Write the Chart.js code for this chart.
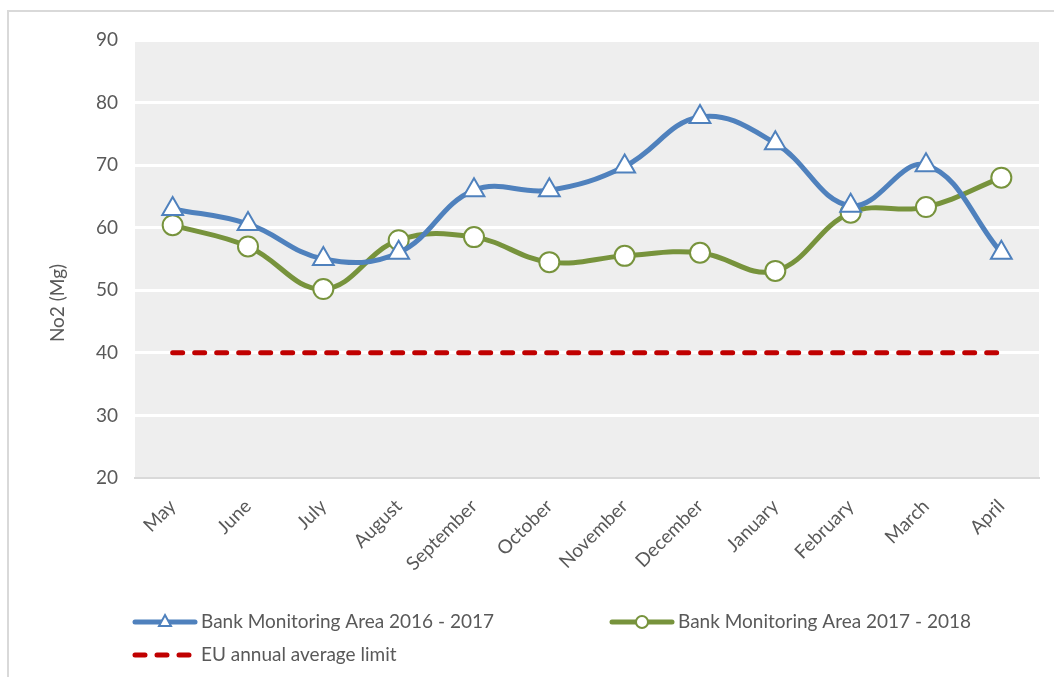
<!DOCTYPE html>
<html>
<head>
<meta charset="utf-8">
<script src="https://cdn.jsdelivr.net/npm/chart.js@4/dist/chart.umd.min.js"></script>
<style>
  html, body { margin: 0; padding: 0; background: #fff; }
  #wrap { position: relative; width: 1054px; height: 677px; }
</style>
</head>
<body>
<div id="wrap"><canvas id="no2Chart" width="1054" height="677"></canvas></div>
<script>
// Datos
const months = ["May", "June", "July", "August", "September", "October",
  "November", "December", "January", "February", "March", "April"];
const area2016 = [63, 60.6, 55, 56, 66, 66, 69.8, 77.7, 73.5, 63.5, 70, 56];
const area2017 = [60.4, 57, 50.2, 58, 58.5, 54.5, 55.5, 56, 53.1, 62.4, 63.3, 68];
const euLimit = [40, 40, 40, 40, 40, 40, 40, 40, 40, 40, 40, 40];
const yTicks = [20, 30, 40, 50, 60, 70, 80, 90];

const FONT = "Lato, 'Open Sans', sans-serif";
const TEXT = "#595959";

// Fondo gris del área de trazado y marco exterior
const backdrop = {
  id: "backdrop",
  beforeDraw(chart) {
    const { ctx, chartArea: a } = chart;
    ctx.save();
    ctx.fillStyle = "#eeeeee";
    ctx.fillRect(a.left, a.top, a.right - a.left, a.bottom - a.top);
    ctx.strokeStyle = "#d9d9d9";
    ctx.lineWidth = 2;
    ctx.strokeRect(8, 11, 1060, 700);
    ctx.restore();
  },
  afterDraw(chart) {
    // Título del eje Y
    const { ctx } = chart;
    ctx.save();
    ctx.translate(58, 303);
    ctx.rotate(-Math.PI / 2);
    ctx.fillStyle = TEXT;
    ctx.font = "19px " + FONT;
    ctx.textAlign = "center";
    ctx.textBaseline = "middle";
    ctx.fillText("No2 (Mg)", 0, 0);
    ctx.restore();
  }
};

// Leyenda: línea con marcador al centro
const lineLegend = {
  id: "lineLegend",
  afterDraw(chart) {
    const { ctx } = chart;
    const slots = [[133, 622], [610, 622], [133, 655]];
    chart.data.datasets.forEach((ds, i) => {
      const [x, y] = slots[i];
      ctx.save();
      ctx.strokeStyle = ds.borderColor;
      ctx.lineWidth = 5;
      ctx.lineCap = "round";
      if (ds.borderDash) ctx.setLineDash([10, 12]);
      ctx.beginPath();
      ctx.moveTo(x + 2, y);
      ctx.lineTo(x + 62, y);
      ctx.stroke();
      ctx.setLineDash([]);
      if (ds.pointRadius > 0) {
        ctx.fillStyle = "#fff";
        ctx.strokeStyle = ds.pointBorderColor;
        ctx.lineWidth = 2;
        ctx.beginPath();
        if (ds.pointStyle === "circle") {
          ctx.arc(x + 32, y, 6, 0, Math.PI * 2);
        } else {
          ctx.moveTo(x + 32, y - 7);
          ctx.lineTo(x + 38, y + 4);
          ctx.lineTo(x + 26, y + 4);
          ctx.closePath();
        }
        ctx.fill();
        ctx.stroke();
      }
      ctx.fillStyle = TEXT;
      ctx.font = "19px " + FONT;
      ctx.textBaseline = "middle";
      ctx.fillText(ds.label, x + 68, y);
      ctx.restore();
    });
  }
};

const ctx = document.querySelector("#no2Chart").getContext("2d");
new Chart(ctx, {
  type: "line",
  data: {
    labels: months,
    datasets: [
      {
        label: "Bank Monitoring Area 2016 - 2017",
        data: area2016,
        borderColor: "#4f81bd",
        borderWidth: 5,
        tension: 0.4,
        pointStyle: "triangle",
        pointRadius: 12,
        pointBackgroundColor: "#fff",
        pointBorderColor: "#4f81bd",
        pointBorderWidth: 2
      },
      {
        label: "Bank Monitoring Area 2017 - 2018",
        data: area2017,
        borderColor: "#77933c",
        borderWidth: 5,
        tension: 0.4,
        pointStyle: "circle",
        pointRadius: 10,
        pointBackgroundColor: "#fff",
        pointBorderColor: "#77933c",
        pointBorderWidth: 2
      },
      {
        label: "EU annual average limit",
        data: euLimit,
        borderColor: "#c00000",
        borderWidth: 5,
        borderDash: [10, 12],
        borderCapStyle: "round",
        pointRadius: 0,
        tension: 0
      }
    ]
  },
  options: {
    responsive: false,
    animation: false,
    layout: { padding: { left: 0, top: 40, right: 15, bottom: 0 } },
    plugins: {
      legend: { display: false },
      tooltip: { enabled: false }
    },
    scales: {
      x: {
        offset: true,
        grid: { display: false, offset: true },
        border: { display: true, color: "#d9d9d9", width: 2 },
        ticks: {
          color: TEXT,
          font: { family: FONT, size: 19 },
          minRotation: 45,
          maxRotation: 45,
          padding: 9
        },
        afterFit(scale) { scale.height = 199; }
      },
      y: {
        min: 20,
        max: 90,
        afterBuildTicks(scale) { scale.ticks = yTicks.map(v => ({ value: v })); },
        grid: { color: "#ffffff", lineWidth: 3, drawTicks: false },
        border: { display: false },
        ticks: {
          color: TEXT,
          font: { family: FONT, size: 19 },
          padding: 17
        },
        afterFit(scale) { scale.width = 135; }
      }
    }
  },
  plugins: [backdrop, lineLegend]
});
</script>
</body>
</html>
